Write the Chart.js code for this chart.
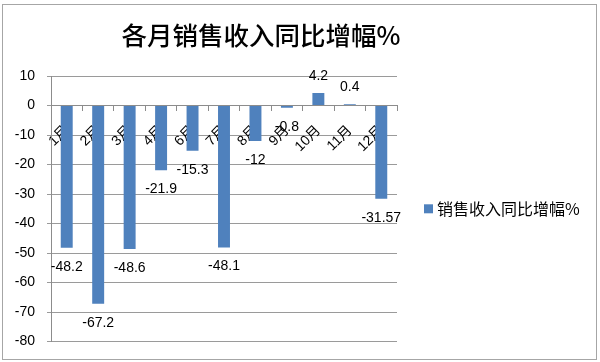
<!DOCTYPE html>
<html><head><meta charset="utf-8">
<script src="https://cdn.jsdelivr.net/npm/chart.js@4.4.1/dist/chart.umd.min.js"></script>
<style>html,body{margin:0;padding:0;background:#fff}#wrap{width:600px;height:362px;position:relative}</style>
</head><body><div id="wrap"><canvas id="c" width="600" height="362"></canvas></div>
<script>
const titleText = '各月销售收入同比增幅%';
const seriesName = '销售收入同比增幅%';
const categories = ['1月','2月','3月','4月','6月','7月','8月','9月','10月','11月','12月'];
const values = [-48.2, -67.2, -48.6, -21.9, -15.3, -48.1, -12, -0.8, 4.2, 0.4, -31.57];
const valueLabels = ['-48.2','-67.2','-48.6','-21.9','-15.3','-48.1','-12','-0.8','4.2','0.4','-31.57'];
const yMin = -80, yMax = 10, yStep = 10;

const CJK = "'Noto Sans CJK SC', 'Noto Sans', sans-serif";
const NUM = "'Liberation Sans', Arial, sans-serif";
const LABEL_FONT = "'Liberation Sans', 'Noto Sans CJK SC', sans-serif";

const framePlugin = {
  id: 'frame',
  beforeDraw(chart) {
    const ctx = chart.ctx;
    ctx.save();
    ctx.fillStyle = '#fff';
    ctx.fillRect(0, 0, chart.width, chart.height);
    ctx.strokeStyle = '#a6a6a6';
    ctx.lineWidth = 1;
    ctx.strokeRect(2.5, 4.5, chart.width - 6, chart.height - 7);
    ctx.restore();
  },
  afterDraw(chart) {
    const ctx = chart.ctx;
    const area = chart.chartArea;
    ctx.save();
    ctx.fillStyle = '#000';
    ctx.font = "500 25.5px " + CJK;
    ctx.textAlign = 'center';
    ctx.textBaseline = 'middle';
    ctx.fillText(titleText, 261, 35);
    // legend (drawn manually so the long series name fits beside the plot)
    const ds = chart.data.datasets[0];
    const cy = (area.top + area.bottom) / 2;
    const bx = area.right + 27;
    ctx.fillStyle = ds.backgroundColor;
    ctx.fillRect(bx, cy - 4.5, 9, 9);
    ctx.fillStyle = '#000';
    ctx.font = "16px " + CJK;
    ctx.textAlign = 'left';
    ctx.fillText(ds.label, bx + 13, cy);
    ctx.restore();
  }
};

const valueLabelPlugin = {
  id: 'valueLabels',
  afterDatasetsDraw(chart) {
    const ctx = chart.ctx;
    const meta = chart.getDatasetMeta(0);
    ctx.save();
    ctx.fillStyle = '#000';
    ctx.font = "14px " + NUM;
    ctx.textAlign = 'center';
    ctx.textBaseline = 'middle';
    meta.data.forEach((bar, i) => {
      const v = values[i];
      const y = v >= 0 ? bar.y - 17 : bar.y + 19;
      ctx.fillText(valueLabels[i], bar.x, y);
    });
    ctx.restore();
  }
};

new Chart(document.getElementById('c'), {
  type: 'bar',
  data: {
    labels: categories,
    datasets: [{
      label: seriesName,
      data: values,
      backgroundColor: '#4f81bd',
      borderWidth: 0,
      barPercentage: 0.38,
      categoryPercentage: 1.0
    }]
  },
  options: {
    responsive: false,
    animation: false,
    devicePixelRatio: 1,
    layout: { padding: { top: 76, bottom: 10, left: 0, right: 203 } },
    plugins: {
      title: { display: false },
      tooltip: { enabled: false },
      legend: { display: false }
    },
    scales: {
      x: {
        type: 'category',
        position: { y: 0 },
        offset: true,
        grid: { offset: true, drawOnChartArea: false, drawTicks: true, tickLength: 5, color: '#8c8c8c' },
        border: { display: true, color: '#8c8c8c' },
        ticks: {
          autoSkip: false, minRotation: 45, maxRotation: 45, padding: 12,
          color: '#000', font: { family: LABEL_FONT, size: 14 }
        }
      },
      y: {
        min: yMin, max: yMax,
        ticks: { stepSize: yStep, padding: 12, color: '#000', font: { family: NUM, size: 14 } },
        grid: { color: '#9a9a9a', tickLength: 4 },
        border: { display: true, color: '#8c8c8c' },
        afterFit(s) { s.width = 51; }
      }
    }
  },
  plugins: [framePlugin, valueLabelPlugin]
});
</script>
</body></html>
